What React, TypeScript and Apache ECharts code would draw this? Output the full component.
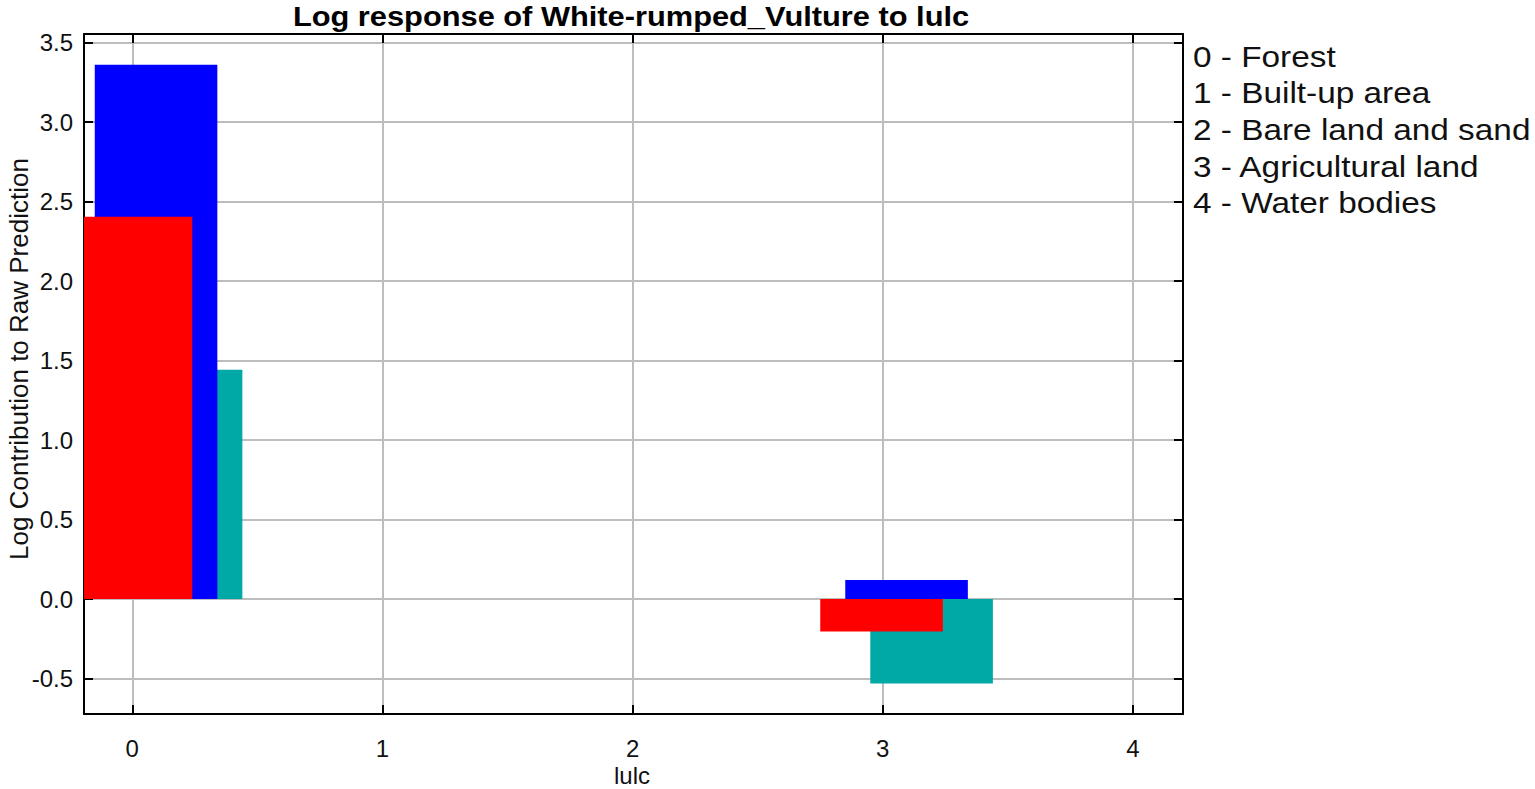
import React, { useEffect, useRef } from "react";
import * as echarts from "echarts";

const TITLE = "Log response of White-rumped_Vulture to lulc";
const X_NAME = "lulc";
const Y_NAME = "Log Contribution to Raw Prediction";
const CATEGORIES = [0, 1, 2, 3, 4];
const LEGEND_LINES = [
  "0 - Forest",
  "1 - Built-up area",
  "2 - Bare land and sand",
  "3 - Agricultural land",
  "4 - Water bodies",
];
// drawn back to front: teal, blue, red
const TEAL_VALUES = [1.443, 0, 0, -0.531, 0];
const BLUE_VALUES = [3.362, 0, 0, 0.12, 0];
const RED_VALUES = [2.406, 0, 0, -0.204, 0];

const FONT = "'Liberation Sans', Arial, sans-serif";

export default function App() {
  const ref = useRef<HTMLDivElement>(null);
  useEffect(() => {
    if (!ref.current) return;
    const chart = echarts.init(ref.current, null, { renderer: "svg" });
    const BAR_W = 0.49;
    const makeSeries = (name: string, values: number[], offset: number, color: string) => ({
      type: "custom",
      name,
      xAxisIndex: 0,
      yAxisIndex: 0,
      data: CATEGORIES.map((c, i) => [c, values[i]]),
      renderItem: (params: any, api: any) => {
        const c = api.value(0);
        const v = api.value(1);
        const x0 = c + offset - BAR_W / 2;
        const x1 = c + offset + BAR_W / 2;
        const p0 = api.coord([x0, Math.max(v, 0)]);
        const p1 = api.coord([x1, Math.min(v, 0)]);
        const rect = echarts.graphic.clipRectByRect(
          { x: p0[0], y: p0[1], width: p1[0] - p0[0], height: p1[1] - p0[1] },
          {
            x: params.coordSys.x,
            y: params.coordSys.y,
            width: params.coordSys.width,
            height: params.coordSys.height,
          }
        );
        if (!rect) return null;
        return { type: "rect", shape: rect, style: { fill: color } };
      },
    });
    const axisCommon = {
      axisLine: { show: true, onZero: false, lineStyle: { color: "#000", width: 2 } },
      axisTick: { show: true, inside: true, length: 9, lineStyle: { color: "#000", width: 2 } },
    };
    const X_MIN = -0.193;
    const X_MAX = 4.2;
    const Y_MIN = -0.723;
    const Y_MAX = 3.555;
    const option: any = {
      animation: false,
      backgroundColor: "#fff",
      textStyle: { fontFamily: FONT },
      grid: { left: 84, right: 352, top: 34, bottom: 75, containLabel: false },
      xAxis: [
        {
          type: "value",
          position: "bottom",
          min: X_MIN,
          max: X_MAX,
          splitNumber: 5,
          ...axisCommon,
          axisLabel: {
            show: true,
            margin: 22,
            fontSize: 24,
            color: "#111",
            fontFamily: FONT,
            showMinLabel: false,
            showMaxLabel: false,
            formatter: (v: number) => String(v),
          },
          splitLine: { show: true, lineStyle: { color: "#bdbdbd", width: 2 } },
        },
        {
          type: "value",
          position: "top",
          min: X_MIN,
          max: X_MAX,
          splitNumber: 5,
          ...axisCommon,
          axisLabel: { show: false },
          splitLine: { show: false },
        },
      ],
      yAxis: [
        {
          type: "value",
          position: "left",
          min: Y_MIN,
          max: Y_MAX,
          splitNumber: 8,
          ...axisCommon,
          axisLabel: {
            show: true,
            margin: 11,
            fontSize: 24,
            color: "#111",
            fontFamily: FONT,
            showMinLabel: false,
            showMaxLabel: false,
            formatter: (v: number) => v.toFixed(1),
          },
          splitLine: { show: true, lineStyle: { color: "#bdbdbd", width: 2 } },
        },
        {
          type: "value",
          position: "right",
          min: Y_MIN,
          max: Y_MAX,
          splitNumber: 8,
          ...axisCommon,
          axisLabel: { show: false },
          splitLine: { show: false },
        },
      ],
      series: [
        makeSeries("teal", TEAL_VALUES, 0.195, "#00a8a6"),
        makeSeries("blue", BLUE_VALUES, 0.095, "#0000ff"),
        makeSeries("red", RED_VALUES, -0.005, "#ff0000"),
      ],
      graphic: [
        {
          type: "text",
          x: 631,
          y: 16,
          scaleX: 1.1,
          style: {
            text: TITLE,
            font: `bold 28px ${FONT}`,
            fill: "#000",
            align: "center",
            verticalAlign: "middle",
          },
        },
        {
          type: "text",
          x: 19,
          y: 359,
          rotation: Math.PI / 2,
          style: {
            text: Y_NAME,
            font: `26px ${FONT}`,
            fill: "#111",
            align: "center",
            verticalAlign: "middle",
          },
        },
        {
          type: "text",
          x: 632,
          y: 775,
          style: {
            text: X_NAME,
            font: `24px ${FONT}`,
            fill: "#111",
            align: "center",
            verticalAlign: "middle",
          },
        },
        ...LEGEND_LINES.map((t, i) => ({
          type: "text",
          x: 1193,
          y: 57 + i * 36.65,
          scaleX: 1.15,
          style: {
            text: t,
            font: `29px ${FONT}`,
            fill: "#111",
            align: "left",
            verticalAlign: "middle",
          },
        })),
      ],
    };
    chart.setOption(option);
    return () => chart.dispose();
  }, []);
  return (
    <div
      ref={ref}
      style={{ position: "fixed", left: 0, top: 0, width: 1535, height: 789 }}
    />
  );
}
